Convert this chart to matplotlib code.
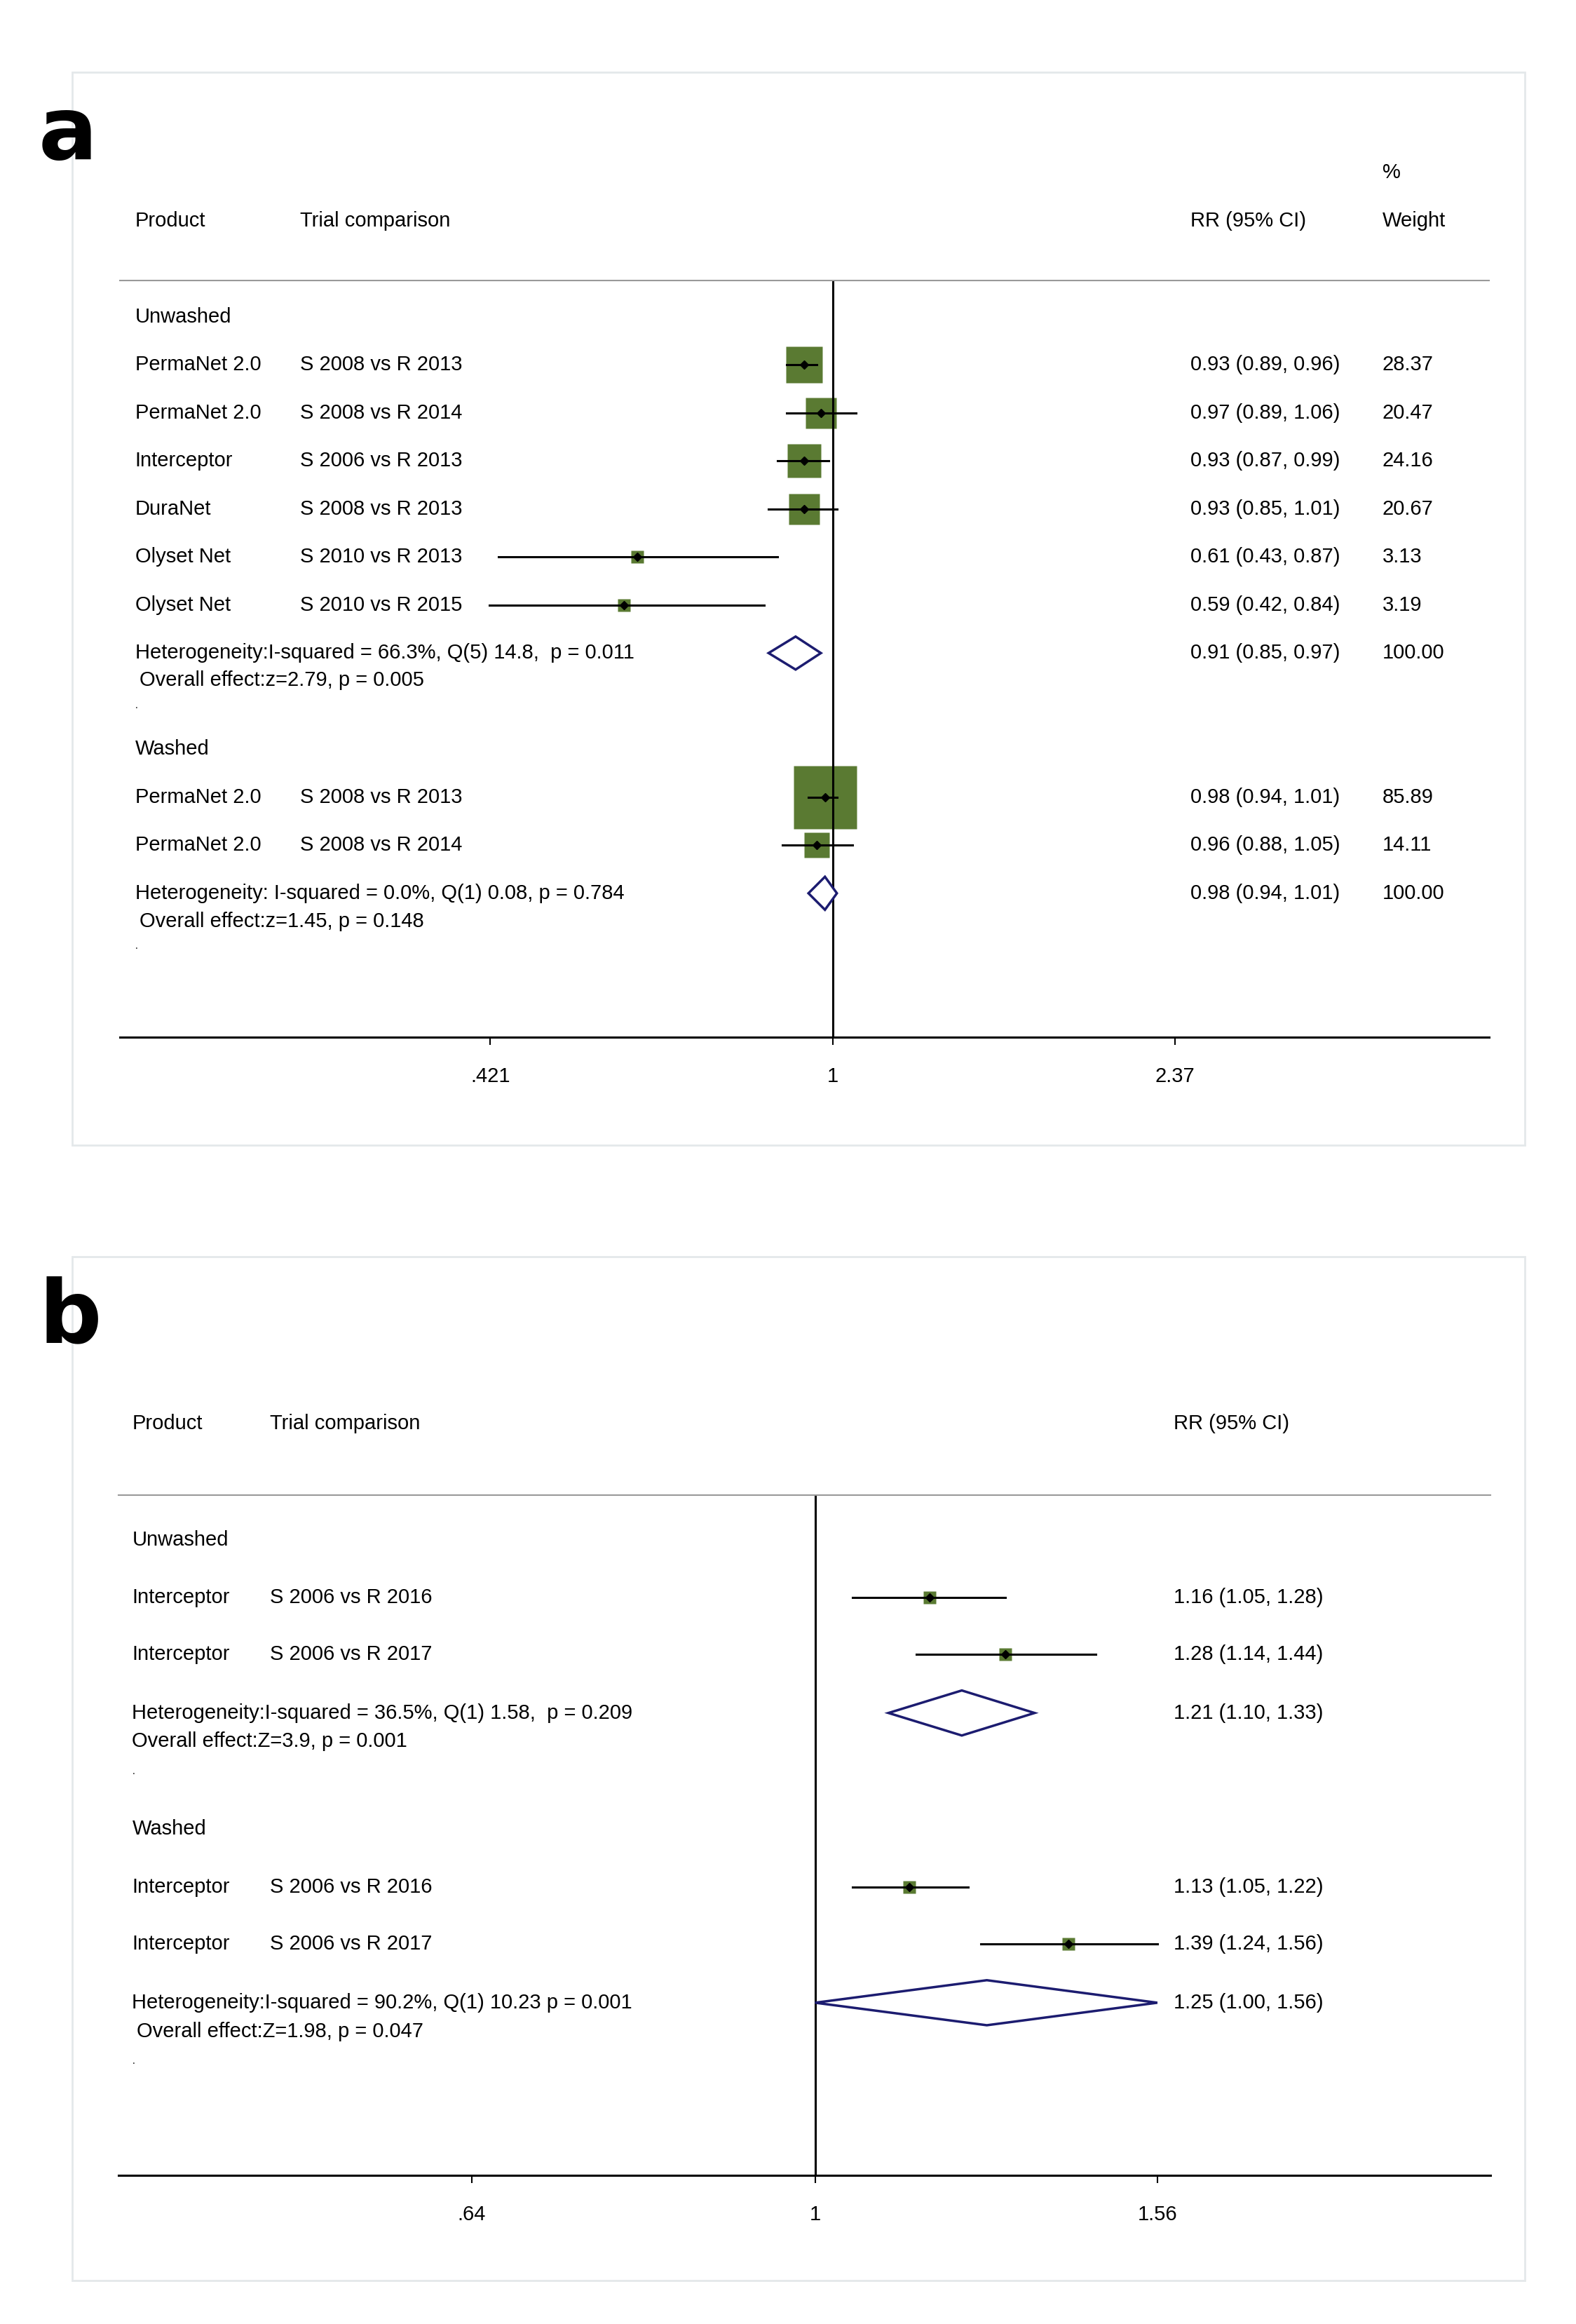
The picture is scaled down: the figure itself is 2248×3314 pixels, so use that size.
import numpy as np
import matplotlib.pyplot as plt
from matplotlib.ticker import NullLocator

plt.rcParams['font.family'] = ['Liberation Sans', 'DejaVu Sans']

# panel a data
a_product = ["PermaNet 2.0", "PermaNet 2.0", "Interceptor", "DuraNet", "Olyset Net", "Olyset Net"]
a_trial = ["S 2008 vs R 2013", "S 2008 vs R 2014", "S 2006 vs R 2013", "S 2008 vs R 2013",
           "S 2010 vs R 2013", "S 2010 vs R 2015"]
a_rr = [0.93, 0.97, 0.93, 0.93, 0.61, 0.59]
a_lo = [0.89, 0.89, 0.87, 0.85, 0.43, 0.42]
a_hi = [0.96, 1.06, 0.99, 1.01, 0.87, 0.84]
a_w = [28.37, 20.47, 24.16, 20.67, 3.13, 3.19]
a_pool = [(0.91, 0.85, 0.97), (0.98, 0.94, 1.01)]
a_wash_product = ["PermaNet 2.0", "PermaNet 2.0"]
a_wash_trial = ["S 2008 vs R 2013", "S 2008 vs R 2014"]
a_wash_rr = [0.98, 0.96]
a_wash_lo = [0.94, 0.88]
a_wash_hi = [1.01, 1.05]
a_wash_w = [85.89, 14.11]

# panel b data
b_product = ["Interceptor", "Interceptor"]
b_trial = ["S 2006 vs R 2016", "S 2006 vs R 2017"]
b_rr = [1.16, 1.28]
b_lo = [1.05, 1.14]
b_hi = [1.28, 1.44]
b_wash_rr = [1.13, 1.39]
b_wash_lo = [1.05, 1.24]
b_wash_hi = [1.22, 1.56]
b_pool = [(1.21, 1.10, 1.33), (1.25, 1.00, 1.56)]

GREEN = "#5a7a32"
NAVY = "#1c1c70"
W, H = 1050, 1548
fs = 21

fig = plt.figure(figsize=(22.48, 33.14), dpi=100)

def fx(x): return x / W
def fy(y): return 1 - y / H
def txt(x, y, s, **kw):
    fig.text(fx(x), fy(y), s, fontsize=kw.pop('fontsize', fs), va='center', ha=kw.pop('ha', 'left'), **kw)

def box(x0, y0, x1, y1):
    fig.patches.append(plt.Rectangle((fx(x0), fy(y1)), fx(x1) - fx(x0), fy(y0) - fy(y1),
                                     transform=fig.transFigure, fill=False, ec="#e4e8ea", lw=2))

def forest_axes(x0, x1, ytop, ybot, xlim, ticks, labels):
    ax = fig.add_axes([fx(x0), fy(ybot), (x1 - x0) / W, (ybot - ytop) / H])
    ax.set_xscale('log')
    ax.set_xlim(*xlim)
    ax.set_ylim(ybot, ytop)
    for s in ['left', 'right', 'top']:
        ax.spines[s].set_visible(False)
    ax.spines['bottom'].set_linewidth(2.2)
    ax.set_yticks([])
    ax.set_xticks(ticks)
    ax.set_xticklabels(labels, fontsize=fs)
    ax.xaxis.set_minor_locator(NullLocator())
    ax.tick_params(axis='x', length=8, width=1.5, pad=22)
    ax.patch.set_alpha(0)
    ax.axvline(1, color='black', lw=2.2)
    return ax

def study(ax, y, rr, lo, hi, side):
    ax.plot([lo, hi], [y, y], color='black', lw=2.2, zorder=2)
    ax.plot(rr, y, 's', color=GREEN, ms=side * 1.54, mec='none', zorder=1)
    ax.plot(rr, y, 'D', color='black', ms=6, zorder=3)

def diamond(ax, y, rr, lo, hi, h=11):
    ax.fill([lo, rr, hi, rr, lo], [y, y - h, y, y + h, y], fc='white', ec=NAVY, lw=2.5, zorder=3)

# ---- panel a ----
box(48, 48, 1016, 763)
txt(45, 90, "a", fontsize=90, fontweight='bold', ha='center', family='DejaVu Sans')
txt(921, 115, "%")
txt(90, 147, "Product"); txt(200, 147, "Trial comparison"); txt(793, 147, "RR (95% CI)"); txt(921, 147, "Weight")
fig.add_artist(plt.Line2D([fx(80), fx(992)], [fy(187), fy(187)], color='#999999', lw=1.5))
axa = forest_axes(80, 992, 187, 691, (0.1653, 5.24), [0.421, 1, 2.37], [".421", "1", "2.37"])

txt(90, 211, "Unwashed")
ys = [243, 275, 307, 339, 371, 403]
for i, y in enumerate(ys):
    txt(90, y, a_product[i]); txt(200, y, a_trial[i])
    txt(793, y, f"{a_rr[i]:.2f} ({a_lo[i]:.2f}, {a_hi[i]:.2f})"); txt(921, y, f"{a_w[i]:.2f}")
    study(axa, y, a_rr[i], a_lo[i], a_hi[i], 4.5 * np.sqrt(a_w[i]))
txt(90, 435, "Heterogeneity:I-squared = 66.3%, Q(5) 14.8,  p = 0.011")
txt(93, 453, "Overall effect:z=2.79, p = 0.005")
txt(90, 470, ".", fontsize=10)
p = a_pool[0]
diamond(axa, 435, *p); txt(793, 435, f"{p[0]:.2f} ({p[1]:.2f}, {p[2]:.2f})"); txt(921, 435, "100.00")

txt(90, 499, "Washed")
for i, y in enumerate([531, 563]):
    txt(90, y, a_wash_product[i]); txt(200, y, a_wash_trial[i])
    txt(793, y, f"{a_wash_rr[i]:.2f} ({a_wash_lo[i]:.2f}, {a_wash_hi[i]:.2f})"); txt(921, y, f"{a_wash_w[i]:.2f}")
    study(axa, y, a_wash_rr[i], a_wash_lo[i], a_wash_hi[i], 4.5 * np.sqrt(a_wash_w[i]))
txt(90, 595, "Heterogeneity: I-squared = 0.0%, Q(1) 0.08, p = 0.784")
txt(93, 614, "Overall effect:z=1.45, p = 0.148")
txt(90, 630, ".", fontsize=10)
p = a_pool[1]
diamond(axa, 595, *p); txt(793, 595, f"{p[0]:.2f} ({p[1]:.2f}, {p[2]:.2f})"); txt(921, 595, "100.00")

# ---- panel b ----
box(48, 837, 1016, 1519)
txt(47, 878, "b", fontsize=90, fontweight='bold', ha='center', family='DejaVu Sans')
txt(88, 948, "Product"); txt(180, 948, "Trial comparison"); txt(782, 948, "RR (95% CI)")
fig.add_artist(plt.Line2D([fx(79), fx(993)], [fy(996), fy(996)], color='#999999', lw=1.5))
axb = forest_axes(79, 993, 996, 1449, (0.4045, 2.405), [0.64, 1, 1.56], [".64", "1", "1.56"])

txt(88, 1026, "Unwashed")
for i, y in enumerate([1064, 1102]):
    txt(88, y, b_product[i]); txt(180, y, b_trial[i])
    txt(782, y, f"{b_rr[i]:.2f} ({b_lo[i]:.2f}, {b_hi[i]:.2f})")
    study(axb, y, b_rr[i], b_lo[i], b_hi[i], 8)
txt(88, 1141, "Heterogeneity:I-squared = 36.5%, Q(1) 1.58,  p = 0.209")
txt(88, 1160, "Overall effect:Z=3.9, p = 0.001")
txt(88, 1180, ".", fontsize=10)
p = b_pool[0]
diamond(axb, 1141, *p, h=15); txt(782, 1141, f"{p[0]:.2f} ({p[1]:.2f}, {p[2]:.2f})")

txt(88, 1218, "Washed")
for i, y in enumerate([1257, 1295]):
    txt(88, y, b_product[i]); txt(180, y, b_trial[i])
    txt(782, y, f"{b_wash_rr[i]:.2f} ({b_wash_lo[i]:.2f}, {b_wash_hi[i]:.2f})")
    study(axb, y, b_wash_rr[i], b_wash_lo[i], b_wash_hi[i], 8)
txt(88, 1334, "Heterogeneity:I-squared = 90.2%, Q(1) 10.23 p = 0.001")
txt(91, 1353, "Overall effect:Z=1.98, p = 0.047")
txt(88, 1373, ".", fontsize=10)
p = b_pool[1]
diamond(axb, 1334, *p, h=15); txt(782, 1334, f"{p[0]:.2f} ({p[1]:.2f}, {p[2]:.2f})")

fig.savefig("out.png", dpi=100, facecolor='white')
